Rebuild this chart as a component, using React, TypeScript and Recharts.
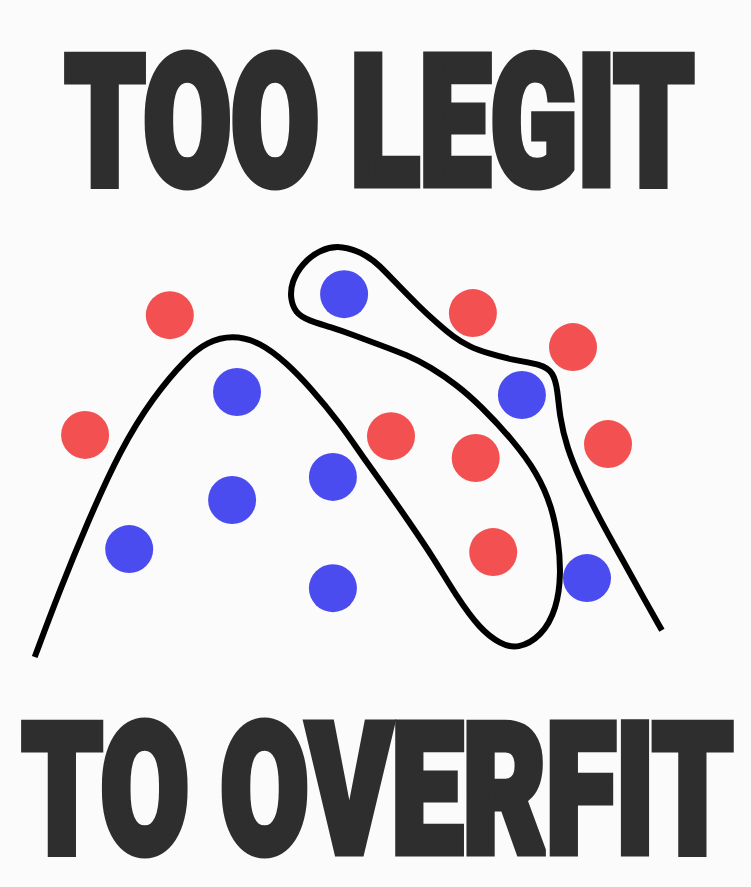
import React, { useLayoutEffect, useRef, useState } from 'react';
import { ScatterChart, Scatter, XAxis, YAxis } from 'recharts';

// feature space 0..10 on both axes
const redPoints = [
  { x: 2.14, y: 8.21 },
  { x: 0.93, y: 5.36 },
  { x: 6.47, y: 8.26 },
  { x: 7.9, y: 7.45 },
  { x: 5.3, y: 5.33 },
  { x: 6.51, y: 4.81 },
  { x: 8.4, y: 5.14 },
  { x: 6.76, y: 2.57 },
];

const bluePoints = [
  { x: 4.63, y: 8.71 },
  { x: 3.1, y: 6.38 },
  { x: 7.17, y: 6.31 },
  { x: 4.47, y: 4.36 },
  { x: 3.03, y: 3.81 },
  { x: 1.56, y: 2.64 },
  { x: 4.47, y: 1.71 },
  { x: 8.1, y: 1.95 },
];

// the overfitted decision boundary, in drawing order
const boundary = [
  { x: 0.21, y: 0.07 }, { x: 0.57, y: 1.67 }, { x: 0.96, y: 3.26 }, { x: 1.43, y: 5.0 },
  { x: 1.9, y: 6.26 }, { x: 2.39, y: 7.21 }, { x: 2.67, y: 7.57 }, { x: 3.03, y: 7.74 },
  { x: 3.43, y: 7.57 }, { x: 3.81, y: 7.07 }, { x: 4.14, y: 6.5 }, { x: 4.57, y: 5.64 },
  { x: 4.9, y: 4.83 }, { x: 5.24, y: 4.05 }, { x: 5.57, y: 3.26 }, { x: 5.9, y: 2.45 },
  { x: 6.24, y: 1.5 }, { x: 6.57, y: 0.74 }, { x: 6.86, y: 0.38 }, { x: 7.11, y: 0.26 },
  { x: 7.45, y: 0.56 }, { x: 7.67, y: 1.22 }, { x: 7.73, y: 2.07 }, { x: 7.69, y: 2.86 },
  { x: 7.6, y: 3.64 }, { x: 7.39, y: 4.45 }, { x: 7.04, y: 5.24 }, { x: 6.57, y: 6.07 },
  { x: 6.24, y: 6.55 }, { x: 5.86, y: 6.98 }, { x: 5.53, y: 7.26 }, { x: 5.14, y: 7.5 },
  { x: 4.76, y: 7.74 }, { x: 4.43, y: 7.93 }, { x: 4.12, y: 8.08 }, { x: 3.93, y: 8.27 },
  { x: 3.86, y: 8.62 }, { x: 3.88, y: 9.0 }, { x: 4.03, y: 9.44 }, { x: 4.29, y: 9.78 },
  { x: 4.6, y: 9.88 }, { x: 4.96, y: 9.64 }, { x: 5.14, y: 9.38 }, { x: 5.33, y: 9.05 },
  { x: 5.71, y: 8.4 }, { x: 5.96, y: 8.02 }, { x: 6.19, y: 7.69 }, { x: 6.43, y: 7.45 },
  { x: 6.67, y: 7.31 }, { x: 7.04, y: 7.14 }, { x: 7.45, y: 7.04 }, { x: 7.62, y: 6.85 },
  { x: 7.68, y: 6.43 }, { x: 7.71, y: 5.79 }, { x: 7.81, y: 5.07 }, { x: 8.0, y: 4.29 },
  { x: 8.29, y: 3.33 }, { x: 8.61, y: 2.38 }, { x: 8.9, y: 1.5 }, { x: 9.17, y: 0.71 },
];

const topTitle = 'TOO LEGIT';
const bottomTitle = 'TO OVERFIT';

const RED = '#f25051';
const BLUE = '#4b4cf0';
const INK = '#2e2e2e';

const dot = (color: string) => (props: any) => (
  <circle cx={props.cx} cy={props.cy} r={24} fill={color} />
);

// heavy condensed look: black weight squeezed to width, plus a stroke to fatten it
const titleStyle = {
  fontFamily: 'Roboto, "DejaVu Sans", sans-serif',
  fontWeight: 900,
  fontSize: 180,
  fill: INK,
  stroke: INK,
  strokeWidth: 9,
  strokeLinejoin: 'miter' as const,
};

function Title({ text, x, baseline, width }: { text: string; x: number; baseline: number; width: number }) {
  const ref = useRef<SVGTextElement>(null);
  const [sx, setSx] = useState(0.7);
  useLayoutEffect(() => {
    const w = ref.current ? ref.current.getComputedTextLength() : 0;
    if (w > 0) setSx(width / w);
  }, [text, width]);
  return (
    <text ref={ref} x={0} y={0} transform={`translate(${x},${baseline}) scale(${sx},1)`} style={titleStyle}>
      {text}
    </text>
  );
}

export default function App() {
  return (
    <div style={{ position: 'absolute', left: 0, top: 0, width: 751, height: 887, background: '#fbfbfb' }}>
      <ScatterChart width={751} height={887} margin={{ top: 240, right: 31, bottom: 227, left: 20 }}>
        <XAxis type="number" dataKey="x" domain={[0, 10]} hide allowDataOverflow />
        <YAxis type="number" dataKey="y" domain={[0, 10]} hide allowDataOverflow />
        <Scatter
          data={boundary}
          line={{ stroke: '#000', strokeWidth: 6, fill: 'none' }}
          lineType="joint"
          lineJointType="basis"
          shape={() => <g />}
          isAnimationActive={false}
        />
        <Scatter data={redPoints} shape={dot(RED)} isAnimationActive={false} />
        <Scatter data={bluePoints} shape={dot(BLUE)} isAnimationActive={false} />
        <Title text={topTitle} x={65} baseline={184} width={629} />
        <Title text={bottomTitle} x={22} baseline={852} width={711} />
      </ScatterChart>
    </div>
  );
}
